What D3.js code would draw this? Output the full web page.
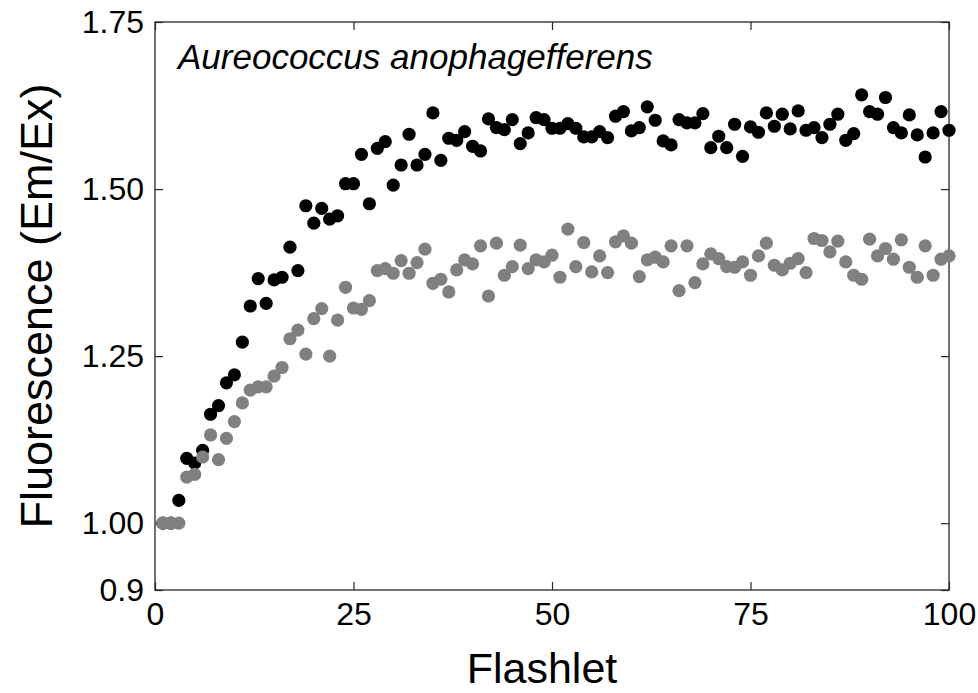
<!DOCTYPE html>
<html>
<head>
<meta charset="utf-8">
<script src="https://cdn.jsdelivr.net/npm/d3@7"></script>
<style>
  html, body { margin: 0; padding: 0; background: #fff; }
  svg { display: block; }
  text { font-family: "Liberation Sans", Arial, sans-serif; fill: #000; }
</style>
</head>
<body>
<svg id="chart" width="978" height="693"></svg>
<script>
const flashlet = d3.range(1, 101);
const darkSeries = [
  1.000, 1.000, 1.034, 1.097, 1.090, 1.109, 1.163, 1.176, 1.210, 1.222,
  1.271, 1.325, 1.366, 1.329, 1.364, 1.368, 1.413, 1.378, 1.475, 1.449,
  1.471, 1.455, 1.460, 1.508, 1.508, 1.552, 1.478, 1.561, 1.571, 1.506,
  1.536, 1.582, 1.536, 1.552, 1.614, 1.543, 1.576, 1.573, 1.586, 1.564,
  1.557, 1.605, 1.592, 1.589, 1.604, 1.568, 1.584, 1.607, 1.604, 1.591,
  1.591, 1.598, 1.591, 1.578, 1.578, 1.586, 1.577, 1.609, 1.616, 1.587,
  1.592, 1.623, 1.603, 1.572, 1.566, 1.604, 1.599, 1.599, 1.613, 1.562,
  1.579, 1.562, 1.597, 1.549, 1.593, 1.585, 1.614, 1.594, 1.612, 1.590,
  1.617, 1.588, 1.592, 1.577, 1.597, 1.612, 1.573, 1.583, 1.641, 1.616,
  1.612, 1.637, 1.592, 1.584, 1.611, 1.581, 1.548, 1.584, 1.616, 1.588
];
const graySeries = [
  1.000, 1.000, 1.000, 1.069, 1.073, 1.099, 1.132, 1.095, 1.127, 1.152,
  1.180, 1.199, 1.204, 1.204, 1.220, 1.233, 1.276, 1.289, 1.253, 1.306,
  1.321, 1.250, 1.304, 1.353, 1.322, 1.320, 1.333, 1.378, 1.381, 1.374,
  1.393, 1.374, 1.390, 1.410, 1.359, 1.365, 1.346, 1.379, 1.394, 1.388,
  1.415, 1.340, 1.419, 1.371, 1.384, 1.416, 1.381, 1.394, 1.391, 1.401,
  1.368, 1.440, 1.384, 1.420, 1.376, 1.400, 1.375, 1.421, 1.430, 1.419,
  1.369, 1.394, 1.398, 1.391, 1.415, 1.348, 1.415, 1.360, 1.388, 1.403,
  1.396, 1.384, 1.383, 1.391, 1.371, 1.400, 1.419, 1.386, 1.379, 1.389,
  1.396, 1.375, 1.426, 1.423, 1.406, 1.422, 1.391, 1.371, 1.365, 1.425,
  1.400, 1.411, 1.395, 1.424, 1.383, 1.368, 1.415, 1.371, 1.395, 1.400
];
const xTicks = [0, 25, 50, 75, 100];
const xTickLabels = ["0", "25", "50", "75", "100"];
const yTicks = [0.9, 1.00, 1.25, 1.50, 1.75];
const yTickLabels = ["0.9", "1.00", "1.25", "1.50", "1.75"];
const chartTitle = "Aureococcus anophagefferens";
const xTitle = "Flashlet";
const yTitle = "Fluorescence (Em/Ex)";

const svg = d3.select("#chart");
const pLeft = 155, pRight = 949, pTop = 22, pBottom = 590;
const x = d3.scaleLinear().domain([0, 100]).range([pLeft, pRight]);
const y = d3.scaleLinear().domain([0.9, 1.75]).range([pBottom, pTop]);
const tickLen = 8;

// frame
svg.append("rect")
  .attr("x", pLeft).attr("y", pTop)
  .attr("width", pRight - pLeft).attr("height", pBottom - pTop)
  .attr("fill", "none").attr("stroke", "#262626").attr("stroke-width", 1.3);

// axes with inward ticks
const xAxis = d3.axisBottom(x).tickValues(xTicks)
  .tickFormat((d, i) => xTickLabels[i]).tickSizeInner(-tickLen).tickSizeOuter(0).tickPadding(12);
const gx = svg.append("g").attr("transform", `translate(0,${pBottom})`).call(xAxis);
const xTopAxis = d3.axisTop(x).tickValues(xTicks).tickFormat("").tickSizeInner(-tickLen).tickSizeOuter(0);
const gxt = svg.append("g").attr("transform", `translate(0,${pTop})`).call(xTopAxis);

const yAxis = d3.axisLeft(y).tickValues(yTicks)
  .tickFormat((d, i) => yTickLabels[i]).tickSizeInner(-tickLen).tickSizeOuter(0).tickPadding(11);
const gy = svg.append("g").attr("transform", `translate(${pLeft},0)`).call(yAxis);
const yRightAxis = d3.axisRight(y).tickValues(yTicks).tickFormat("").tickSizeInner(-tickLen).tickSizeOuter(0);
const gyr = svg.append("g").attr("transform", `translate(${pRight},0)`).call(yRightAxis);

[gx, gxt, gy, gyr].forEach(g => {
  g.select(".domain").remove();
  g.selectAll(".tick line").attr("stroke", "#262626").attr("stroke-width", 1.2);
  g.selectAll(".tick text").attr("font-size", 32).attr("font-family", "'Liberation Sans', Arial, sans-serif").attr("fill", "#000");
});
gx.selectAll(".tick text").attr("dy", "0.71em");

// points: dark first, gray on top
const ptsDark = flashlet.map((f, i) => ({ f, v: darkSeries[i] }));
const ptsGray = flashlet.map((f, i) => ({ f, v: graySeries[i] }));
svg.append("g").selectAll("circle").data(ptsDark).join("circle")
  .attr("cx", d => x(d.f)).attr("cy", d => y(d.v)).attr("r", 6.6)
  .attr("fill", "#000");
svg.append("g").selectAll("circle").data(ptsGray).join("circle")
  .attr("cx", d => x(d.f)).attr("cy", d => y(d.v)).attr("r", 6.6)
  .attr("fill", "#808080");

// title inside plot
svg.append("text").attr("x", 178).attr("y", 69)
  .attr("font-size", 35).attr("font-style", "italic").text(chartTitle);

// axis titles
svg.append("text").attr("x", 542).attr("y", 683)
  .attr("text-anchor", "middle").attr("font-size", 43).text(xTitle);
svg.append("text")
  .attr("transform", `translate(52,${(pTop + pBottom) / 2}) rotate(-90)`)
  .attr("text-anchor", "middle").attr("font-size", 45).text(yTitle);
</script>
</body>
</html>
